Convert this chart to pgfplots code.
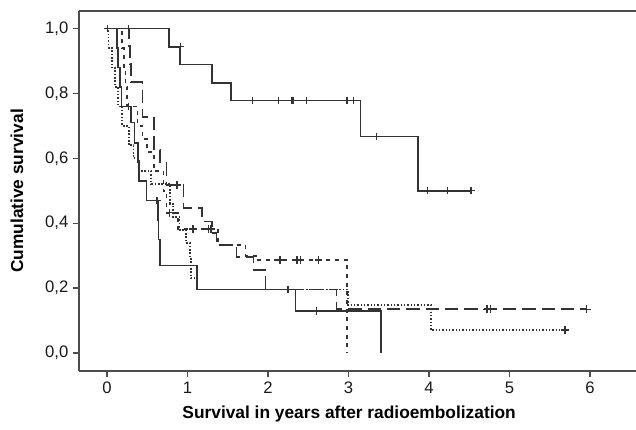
\documentclass[border=0pt]{standalone}
\usepackage{fontspec}
\setmainfont{Liberation Sans}
\usepackage{pgfplots}
\pgfplotsset{compat=1.18}
\begin{document}
\begin{tikzpicture}
\begin{axis}[
  scale only axis, width=417.75pt, height=270pt,
  xmin=-0.348, xmax=6.571, ymin=-0.0555, ymax=1.0539,
  axis x line=box, axis y line=left,
  x axis line style={-}, y axis line style={-},
  axis line style={black!70, line width=1pt},
  xtick={0,1,2,3,4,5,6}, ytick={0,0.2,0.4,0.6,0.8,1},
  xtick pos=bottom, ytick pos=left, tick align=outside,
  major tick length=4.5pt,
  tick style={black!70, line width=1pt},
  /pgf/number format/assume math mode=true,
  yticklabel style={/pgf/number format/.cd, fixed, fixed zerofill, precision=1, use comma},
  ticklabel style={font=\fontsize{12.5}{14}\selectfont, text=black!90},
  xlabel={\textbf{Survival in years after radioembolization}},
  ylabel={\textbf{Cumulative survival}},
  label style={font=\fontsize{13}{15}\selectfont},
  xlabel style={at={(axis description cs:0.485,-0.1195)}, anchor=center},
  ylabel style={at={(axis description cs:-0.1113,0.5)}, anchor=center},
  clip=false,
]
% Top solid curve
\addplot[const plot, line width=1.3pt, black!80] coordinates {
(0,1) (0.77,0.944) (0.91,0.889) (1.30,0.833) (1.54,0.778) (3.15,0.667) (3.86,0.5) (4.52,0.5)};
\addplot[only marks, mark=+, mark size=2.8pt, black!80, mark options={line width=1pt}] coordinates {
(0.01,1) (0.27,1) (0.91,0.944) (1.81,0.778) (2.13,0.778) (2.29,0.778) (2.31,0.778) (2.48,0.778) (2.98,0.778) (3.06,0.778) (3.35,0.667) (3.98,0.5) (4.23,0.5) (4.52,0.5)};
% Lower solid curve
\addplot[const plot, line width=1.3pt, black!80] coordinates {
(0,1) (0.12,0.94) (0.14,0.88) (0.16,0.82) (0.18,0.76) (0.30,0.71) (0.34,0.647) (0.385,0.588) (0.40,0.53) (0.49,0.47) (0.63,0.41) (0.64,0.35) (0.66,0.27) (1.12,0.196) (2.34,0.13) (3.40,0.13) (3.40,0)};
\addplot[only marks, mark=+, mark size=2.8pt, black!80, mark options={line width=1pt}] coordinates {
(0.27,0.76) (0.62,0.47) (2.25,0.196) (2.60,0.13)};
% Short dashed curve
\addplot[const plot, line width=1.3pt, black!80, dash pattern=on 3pt off 3.5pt] coordinates {
(0,1) (0.19,0.94) (0.21,0.88) (0.23,0.82) (0.25,0.76) (0.38,0.70) (0.44,0.66) (0.50,0.62) (0.58,0.56) (0.70,0.50) (0.74,0.432) (0.88,0.382) (1.38,0.333) (1.72,0.30) (1.85,0.287) (2.98,0.287) (2.98,0)};
\addplot[only marks, mark=+, mark size=2.8pt, black!80, mark options={line width=1pt}] coordinates {
(0.78,0.432) (1.07,0.382) (1.26,0.382) (1.29,0.382) (2.15,0.287) (2.36,0.287) (2.40,0.287) (2.63,0.287)};
% Dotted curve
\addplot[const plot, line width=1.3pt, black!80, dash pattern=on 1.2pt off 1.3pt] coordinates {
(0,1) (0.02,0.94) (0.06,0.88) (0.10,0.82) (0.14,0.76) (0.19,0.70) (0.27,0.64) (0.33,0.60) (0.40,0.56) (0.55,0.52) (0.78,0.46) (0.82,0.42) (0.90,0.38) (0.98,0.34) (1.03,0.29) (1.04,0.23) (1.12,0.196) (2.99,0.148) (4.02,0.071) (5.69,0.071)};
\addplot[only marks, mark=+, mark size=2.8pt, black!80, mark options={line width=1pt}] coordinates {
(5.69,0.071)};
% Long dashed curve
\addplot[const plot, line width=1.3pt, black!80, dash pattern=on 10pt off 4.5pt] coordinates {
(0,1) (0.27,0.945) (0.285,0.89) (0.30,0.836) (0.44,0.728) (0.58,0.626) (0.66,0.585) (0.74,0.518) (0.95,0.447) (1.18,0.405) (1.30,0.37) (1.36,0.333) (1.61,0.296) (1.82,0.256) (1.97,0.196) (2.85,0.135) (5.96,0.135)};
\addplot[only marks, mark=+, mark size=2.8pt, black!80, mark options={line width=1pt}] coordinates {
(0.87,0.518) (4.72,0.135) (4.76,0.135) (5.96,0.135)};
\end{axis}
\pgfresetboundingbox
\useasboundingbox ([shift={(-59.25pt,-43.5pt)}]current axis.south west) rectangle ([shift={(0pt,8.25pt)}]current axis.north east);
\end{tikzpicture}
\end{document}
